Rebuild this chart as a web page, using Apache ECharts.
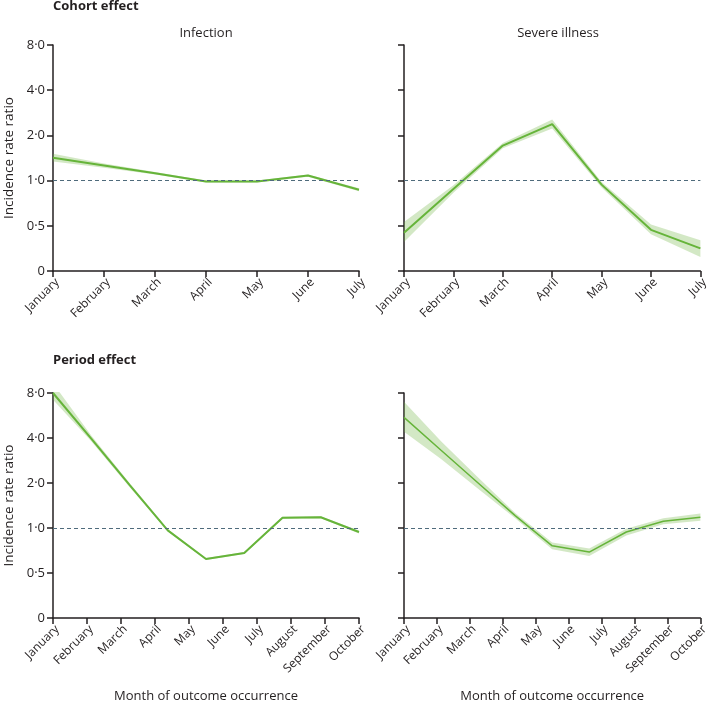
<!DOCTYPE html>
<html>
<head>
<meta charset="utf-8">
<script src="https://cdn.jsdelivr.net/npm/echarts@6/dist/echarts.min.js"></script>
<style>
  html, body { margin: 0; padding: 0; background: #fff; }
  #main { width: 711px; height: 709px; }
</style>
</head>
<body>
<div id="main"></div>
<script>
// x categories
var cohortMonths = ['January', 'February', 'March', 'April', 'May', 'June', 'July']
var periodMonths = ['January', 'February', 'March', 'April', 'May', 'June', 'July', 'August', 'September', 'October']
// period estimates are sampled at 9 evenly spaced points across the month axis
var periodPoints = ['p1', 'p2', 'p3', 'p4', 'p5', 'p6', 'p7', 'p8', 'p9']

// y ticks (log2 steps, bottom tick labelled 0)
var yTickLabels = ['0', '0·5', '1·0', '2·0', '4·0', '8·0']

// incidence rate ratios
var cohortInfection = [1.42, 1.26, 1.12, 0.985, 0.985, 1.08, 0.87]
var cohortInfectionLo = [1.34, 1.22, 1.10, 0.97, 0.97, 1.06, 0.85]
var cohortInfectionHi = [1.51, 1.30, 1.14, 1.00, 1.00, 1.10, 0.89]

var cohortSevere = [0.45, 0.88, 1.71, 2.38, 0.94, 0.47, 0.354]
var cohortSevereLo = [0.39, 0.83, 1.64, 2.22, 0.90, 0.44, 0.31]
var cohortSevereHi = [0.53, 0.93, 1.78, 2.55, 0.98, 0.51, 0.40]

var periodInfection = [8.0, 3.96, 1.94, 0.964, 0.62, 0.68, 1.17, 1.18, 0.94]
var periodInfectionLo = [7.2, 3.8, 1.88, 0.95, 0.61, 0.67, 1.15, 1.16, 0.92]
var periodInfectionHi = [9.3, 4.15, 2.0, 0.98, 0.63, 0.69, 1.19, 1.20, 0.96]

var periodSevere = [5.5, 3.31, 2.0, 1.21, 0.76, 0.69, 0.94, 1.11, 1.18]
var periodSevereLo = [4.4, 2.9, 1.83, 1.16, 0.72, 0.65, 0.89, 1.06, 1.12]
var periodSevereHi = [7.0, 3.8, 2.18, 1.26, 0.80, 0.73, 0.99, 1.16, 1.25]

var chart = echarts.init(document.getElementById('main'))
window.addEventListener('resize', function () { chart.resize() })

var ink = '#231f20'
var green = '#66b43a'
var band = 'rgba(108,179,63,0.3)'
var font = '"Open Sans", sans-serif'

// 0.25 sits at the bottom (labelled 0), each tick doubles
function toAxis (v) { return Math.log2(v / 0.25) }

var grids = [
  { left: 53, top: 45, width: 306, height: 226 },
  { left: 404, top: 45, width: 299, height: 226 },
  { left: 53, top: 393, width: 306, height: 225 },
  { left: 404, top: 393, width: 299, height: 225 }
]

function monthAxis (gi, months, withName) {
  return {
    type: 'category',
    gridIndex: gi,
    data: months,
    boundaryGap: false,
    axisLine: { lineStyle: { color: ink, width: 1.5 } },
    axisTick: { alignWithLabel: true, length: 6, lineStyle: { color: ink, width: 1.5 } },
    axisLabel: {
      rotate: 45, interval: 0, fontSize: 12, color: ink, fontFamily: font,
      margin: 5, align: 'right', verticalAlign: 'top'
    },
    name: withName ? 'Month of outcome occurrence' : '',
    nameLocation: 'middle',
    nameGap: 72,
    nameTextStyle: { fontSize: 13, color: ink, fontFamily: font }
  }
}

function pointAxis (gi) {
  return { type: 'category', gridIndex: gi, data: periodPoints, boundaryGap: false, show: false }
}

function rateAxis (gi, showLabels) {
  return {
    type: 'value',
    gridIndex: gi,
    min: 0,
    max: 5,
    interval: 1,
    splitLine: { show: false },
    axisLine: { show: true, lineStyle: { color: ink, width: 1.5 } },
    axisTick: { show: true, length: 6, lineStyle: { color: ink, width: 1.5 } },
    axisLabel: {
      show: showLabels,
      fontSize: 13,
      color: ink,
      fontFamily: font,
      margin: 8,
      formatter: function (v) { return yTickLabels[v] }
    },
    name: showLabels ? 'Incidence rate ratio' : '',
    nameLocation: 'middle',
    nameGap: 37,
    nameTextStyle: { fontSize: 13.5, color: ink, fontFamily: font }
  }
}

function panel (key, xi, yi, est, lo, hi, lineWidth) {
  var span = hi.map(function (h, i) { return toAxis(h) - toAxis(lo[i]) })
  return [
    {
      type: 'line', xAxisIndex: xi, yAxisIndex: yi, stack: key,
      data: lo.map(toAxis), symbol: 'none', silent: true,
      lineStyle: { opacity: 0 }
    },
    {
      type: 'line', xAxisIndex: xi, yAxisIndex: yi, stack: key,
      data: span, symbol: 'none', silent: true,
      lineStyle: { opacity: 0 },
      areaStyle: { color: band, opacity: 1 }
    },
    {
      type: 'line', xAxisIndex: xi, yAxisIndex: yi,
      data: est.map(toAxis), symbol: 'none',
      lineStyle: { color: green, width: lineWidth },
      z: 3,
      markLine: {
        silent: true,
        symbol: 'none',
        label: { show: false },
        lineStyle: { color: '#4f6b7c', type: [4, 3], width: 1.2 },
        data: [{ yAxis: toAxis(1) }]
      }
    }
  ]
}

var option = {
  animation: false,
  textStyle: { fontFamily: font },
  graphic: [
    { type: 'text', left: 53, top: 0, style: { text: 'Cohort effect', font: 'bold 13px ' + font, fill: ink } },
    { type: 'text', left: 53, top: 354, style: { text: 'Period effect', font: 'bold 13px ' + font, fill: ink } },
    { type: 'text', x: 206, y: 33, style: { text: 'Infection', font: '13px ' + font, fill: ink, align: 'center', verticalAlign: 'middle' } },
    { type: 'text', x: 558, y: 33, style: { text: 'Severe illness', font: '13px ' + font, fill: ink, align: 'center', verticalAlign: 'middle' } }
  ],
  grid: grids,
  xAxis: [
    monthAxis(0, cohortMonths, false),
    monthAxis(1, cohortMonths, false),
    monthAxis(2, periodMonths, true),
    monthAxis(3, periodMonths, true),
    pointAxis(2),
    pointAxis(3)
  ],
  yAxis: [
    rateAxis(0, true),
    rateAxis(1, false),
    rateAxis(2, true),
    rateAxis(3, false)
  ],
  series: [].concat(
    panel('ci', 0, 0, cohortInfection, cohortInfectionLo, cohortInfectionHi, 2),
    panel('cs', 1, 1, cohortSevere, cohortSevereLo, cohortSevereHi, 2),
    panel('pi', 4, 2, periodInfection, periodInfectionLo, periodInfectionHi, 2),
    panel('ps', 5, 3, periodSevere, periodSevereLo, periodSevereHi, 1.5)
  )
}

chart.setOption(option)
</script>
</body>
</html>
